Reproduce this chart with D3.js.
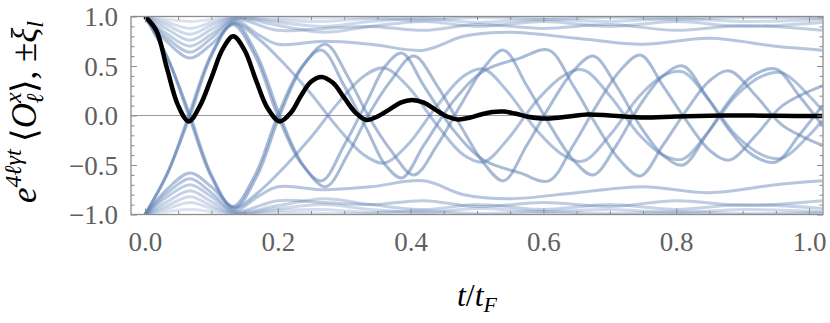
<!DOCTYPE html>
<html>
<head>
<meta charset="utf-8">
<script src="https://cdn.jsdelivr.net/npm/d3@7"></script>
<style>
  body { margin: 0; background: #fff; }
  svg { display: block; }
</style>
</head>
<body>
<svg id="chart" width="830" height="323"></svg>
<script>
// black curve, e^{4 l gamma t} <O^x_l>
const blackT = [0, 0.017, 0.033, 0.05, 0.066, 0.083, 0.1, 0.117, 0.133, 0.15, 0.167, 0.185, 0.203, 0.22, 0.235, 0.25, 0.266, 0.283, 0.3, 0.317, 0.334, 0.35, 0.368, 0.385, 0.402, 0.42, 0.437, 0.455, 0.472, 0.49, 0.506, 0.523, 0.54, 0.557, 0.575, 0.593, 0.61, 0.638, 0.666, 0.7, 0.746, 0.8, 0.85, 0.9, 0.95, 1.02];
const blackV = [1.0, 0.86, 0.48, 0.1, -0.06, 0.1, 0.38, 0.67, 0.8, 0.66, 0.36, 0.07, -0.06, 0.03, 0.2, 0.34, 0.39, 0.33, 0.18, 0.03, -0.045, -0.01, 0.06, 0.13, 0.157, 0.13, 0.06, -0.01, -0.04, -0.02, 0.01, 0.035, 0.04, 0.02, -0.01, -0.028, -0.03, -0.01, 0.01, 0.0, -0.02, -0.01, -0.002, 0.0, -0.003, -0.005];

// xi_l curves, upper branch; the chart shows +xi and -xi
const xiFastA = [[0, 1], [0.033, 0.6], [0.066, 0], [0.1, -0.62], [0.134, -0.94], [0.168, -0.62], [0.203, 0], [0.238, 0.5], [0.272, 0.72], [0.305, 0.4], [0.336, 0], [0.37, -0.35], [0.405, -0.6], [0.44, -0.3], [0.475, 0.1], [0.51, 0.48], [0.54, 0.66], [0.575, 0.3], [0.61, -0.1], [0.645, -0.45], [0.675, -0.6], [0.71, -0.3], [0.745, 0.1], [0.78, 0.4], [0.81, 0.5], [0.845, 0.2], [0.88, -0.15], [0.915, -0.4], [0.95, -0.47], [0.985, -0.2], [1.02, 0.1]];
const xiFastB = [[0, 1], [0.034, 0.58], [0.068, 0], [0.1, -0.6], [0.132, -0.92], [0.166, -0.6], [0.2, 0], [0.235, 0.48], [0.266, 0.66], [0.3, 0.3], [0.335, -0.15], [0.362, -0.5], [0.387, -0.63], [0.42, -0.3], [0.465, 0.15], [0.51, 0.45], [0.565, 0.58], [0.608, 0.66], [0.645, 0.3], [0.68, -0.1], [0.715, -0.45], [0.746, -0.61], [0.78, -0.3], [0.815, 0.05], [0.85, 0.35], [0.88, 0.45], [0.92, 0.2], [0.96, -0.1], [1.02, -0.3]];
const xiMid = [[0, 1], [0.034, 0.74], [0.068, 0.58], [0.1, 0.72], [0.135, 0.93], [0.17, 0.78], [0.21, 0.52], [0.25, 0.22], [0.29, -0.12], [0.33, -0.4], [0.36, -0.48], [0.395, -0.3], [0.44, 0.1], [0.48, 0.4], [0.51, 0.47], [0.545, 0.25], [0.59, -0.15], [0.63, -0.4], [0.66, -0.46], [0.7, -0.2], [0.745, 0.2], [0.78, 0.4], [0.81, 0.44], [0.85, 0.15], [0.89, -0.2], [0.93, -0.4], [0.96, -0.43], [1.0, -0.2], [1.02, -0.05]];
const xiArc1 = [[0, 1], [0.034, 0.78], [0.068, 0.64], [0.1, 0.78], [0.135, 0.96], [0.17, 0.82], [0.2, 0.72], [0.27, 0.75], [0.34, 0.72], [0.42, 0.66], [0.48, 0.8], [0.55, 0.84], [0.65, 0.78], [0.75, 0.72], [0.85, 0.78], [0.95, 0.7], [1.02, 0.66]];
const xiArc2 = [[0, 1], [0.034, 0.82], [0.068, 0.7], [0.1, 0.82], [0.135, 0.97], [0.2, 0.86], [0.27, 0.88], [0.34, 0.9], [0.42, 0.86], [0.5, 0.92], [0.6, 0.88], [0.7, 0.92], [0.8, 0.86], [0.9, 0.91], [1.02, 0.86]];
const xiArc3 = [[0, 1], [0.034, 0.87], [0.068, 0.76], [0.1, 0.87], [0.135, 0.98], [0.2, 0.91], [0.27, 0.84], [0.34, 0.9], [0.42, 0.95], [0.5, 0.9], [0.6, 0.95], [0.7, 0.9], [0.8, 0.95], [0.9, 0.9], [1.02, 0.94]];
const xiArc4 = [[0, 1], [0.034, 0.91], [0.068, 0.82], [0.1, 0.91], [0.135, 0.99], [0.2, 0.94], [0.27, 0.9], [0.34, 0.95], [0.42, 0.98], [0.5, 0.94], [0.6, 0.97], [0.7, 0.95], [0.8, 0.98], [0.9, 0.95], [1.02, 0.97]];
const xiArc5 = [[0, 1], [0.034, 0.94], [0.068, 0.88], [0.1, 0.94], [0.135, 0.99], [0.2, 0.96], [0.27, 0.95], [0.34, 0.98], [0.42, 0.96], [0.5, 0.99], [0.6, 0.97], [0.7, 0.99], [0.8, 0.97], [0.9, 0.99], [1.02, 0.98]];
const xiArc6 = [[0, 1], [0.034, 0.97], [0.068, 0.95], [0.1, 0.97], [0.135, 1.0], [0.2, 0.98], [0.3, 0.99], [0.4, 0.98], [0.5, 1.0], [0.6, 0.99], [0.7, 1.0], [0.8, 0.99], [0.9, 1.0], [1.02, 0.99]];

const xiCurves = [xiArc6, xiArc5, xiArc4, xiArc3, xiArc2, xiArc1, xiMid, xiFastB, xiFastA];
const xiAlpha = [0.22, 0.26, 0.3, 0.35, 0.4, 0.45, 0.5, 0.55, 0.55];

const xMajor = [0, 0.2, 0.4, 0.6, 0.8, 1.0];
const yMajor = [-1, -0.5, 0, 0.5, 1];

const serif = "Liberation Serif";
const svg = d3.select("#chart");
const x = d3.scaleLinear().domain([-0.021, 1.021]).range([131, 823]);
const y = d3.scaleLinear().domain([-1, 1]).range([214.5, 16.5]);

svg.append("clipPath").attr("id", "plot")
  .append("rect")
  .attr("x", x.range()[0]).attr("y", y(1))
  .attr("width", x.range()[1] - x.range()[0]).attr("height", y(-1) - y(1));

// zero axis
svg.append("line")
  .attr("x1", x.range()[0]).attr("x2", x.range()[1])
  .attr("y1", y(0)).attr("y2", y(0))
  .attr("stroke", "#999").attr("stroke-width", 1);

const plot = svg.append("g").attr("clip-path", "url(#plot)");
const line = d3.line()
  .x(d => x(d[0]))
  .y(d => y(d[1]))
  .curve(d3.curveCatmullRom.alpha(0.5));

xiCurves.forEach((c, i) => {
  [1, -1].forEach(s => {
    plot.append("path")
      .datum(c.map(d => [d[0], s * d[1]]))
      .attr("d", line)
      .attr("fill", "none")
      .attr("stroke", "#5e81b5")
      .attr("stroke-opacity", xiAlpha[i])
      .attr("stroke-width", 3);
  });
});

plot.append("path")
  .datum(blackT.map((t, i) => [t, blackV[i]]))
  .attr("d", line)
  .attr("fill", "none")
  .attr("stroke", "#000")
  .attr("stroke-width", 4.5);

// frame and ticks
const frameCol = "#8c8c8c";
const labCol = "#5f5f5f";

function ticks(axisFn, scale, vals, size, pos, labels) {
  const ax = axisFn(scale).tickValues(vals).tickSizeInner(-size).tickSizeOuter(0);
  if (!labels) ax.tickFormat("");
  else ax.tickFormat(d => d3.format(".1f")(d).replace("-", "\u2212"));
  const g = svg.append("g").attr("transform", pos).call(ax);
  g.select(".domain").remove();
  g.attr("font-family", serif).attr("font-size", 27);
  g.selectAll("line").attr("stroke", frameCol).attr("stroke-width", 1);
  g.selectAll("text").attr("fill", labCol);
  return g;
}

const xMinor = d3.range(0, 1.0001, 0.05).filter(v => Math.abs(v * 5 - Math.round(v * 5)) > 1e-6);
const yMinor = d3.range(-1, 1.0001, 0.1).filter(v => Math.abs(v * 2 - Math.round(v * 2)) > 1e-6);

const bx = ticks(d3.axisBottom, x, xMajor, 6, `translate(0,${y(-1)})`, true);
ticks(d3.axisBottom, x, xMinor, 3.5, `translate(0,${y(-1)})`, false);
ticks(d3.axisTop, x, xMajor, 6, `translate(0,${y(1)})`, false);
ticks(d3.axisTop, x, xMinor, 3.5, `translate(0,${y(1)})`, false);
const ly = ticks(d3.axisLeft, y, yMajor, 6, `translate(${x.range()[0]},0)`, true);
ticks(d3.axisLeft, y, yMinor, 3.5, `translate(${x.range()[0]},0)`, false);
ticks(d3.axisRight, y, yMajor, 6, `translate(${x.range()[1]},0)`, false);
ticks(d3.axisRight, y, yMinor, 3.5, `translate(${x.range()[1]},0)`, false);

bx.selectAll("text").attr("y", 0).attr("dy", 0).attr("transform", "translate(0,36)");
ly.selectAll("text").attr("x", -13).attr("dy", "0.34em");

svg.append("rect")
  .attr("x", x.range()[0]).attr("y", y(1))
  .attr("width", x.range()[1] - x.range()[0]).attr("height", y(-1) - y(1))
  .attr("fill", "none").attr("stroke", frameCol).attr("stroke-width", 1.3);

// axis titles
const xt = svg.append("text")
  .attr("x", (x(0) + x(1)) / 2).attr("y", 306)
  .attr("text-anchor", "middle")
  .attr("font-family", serif).attr("font-size", 32).attr("fill", "#000");
xt.append("tspan").attr("font-style", "italic").text("t");
xt.append("tspan").text("/");
xt.append("tspan").attr("font-style", "italic").text("t");
xt.append("tspan").attr("font-style", "italic").attr("font-size", 22).attr("dy", 6).text("F");

const yt = svg.append("text")
  .attr("transform", "translate(36,112) rotate(-90)")
  .attr("text-anchor", "middle")
  .attr("font-family", serif).attr("font-size", 35).attr("fill", "#000");
yt.append("tspan").attr("font-style", "italic").text("e");
yt.append("tspan").attr("font-style", "italic").attr("font-size", 24).attr("dy", -15).text("4\u2113\u03b3t");
yt.append("tspan").attr("dy", 15).text("\u2009\u27e8");
yt.append("tspan").attr("font-style", "italic").text("O");
yt.append("tspan").attr("font-style", "italic").attr("font-size", 24).attr("dy", -15).text("x");
yt.append("tspan").attr("font-style", "italic").attr("font-size", 24).attr("dx", -11).attr("dy", 22).text("\u2113");
yt.append("tspan").attr("dy", -7).text("\u27e9, \u00b1");
yt.append("tspan").attr("font-style", "italic").text("\u03be");
yt.append("tspan").attr("font-style", "italic").attr("font-size", 24).attr("dy", 7).text("l");
</script>
</body>
</html>
